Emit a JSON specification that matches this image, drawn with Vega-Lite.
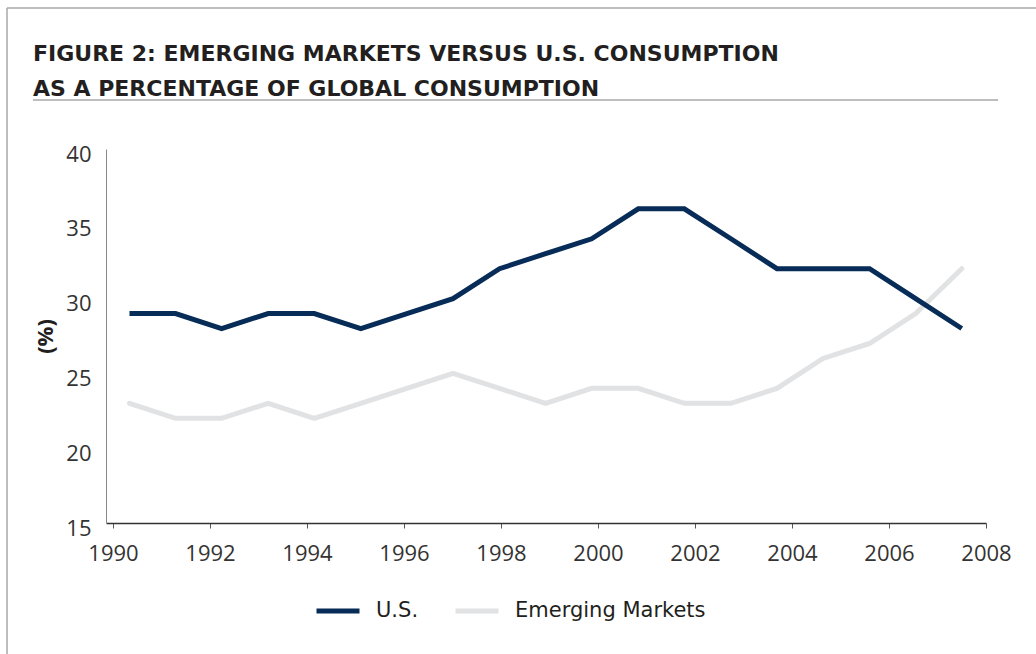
{
  "$schema": "https://vega.github.io/schema/vega-lite/v6.json",
  "width": 880,
  "height": 374,
  "autosize": {"type": "none"},
  "padding": {"left": 106, "top": 149, "right": 50, "bottom": 131},
  "background": "white",
  "view": {"stroke": null},
  "title": {
    "text": ["FIGURE 2: EMERGING MARKETS VERSUS U.S. CONSUMPTION", "AS A PERCENTAGE OF GLOBAL CONSUMPTION"],
    "anchor": "start",
    "frame": "group",
    "dx": -73,
    "offset": -94,
    "baseline": "top",
    "lineHeight": 35,
    "font": "DejaVu Sans",
    "fontSize": 22,
    "fontWeight": "bold",
    "color": "#231f20"
  },
  "datasets": {
    "series": [
      {"year": 1990.34, "series": "U.S.", "value": 29},
      {"year": 1991.29, "series": "U.S.", "value": 29},
      {"year": 1992.24, "series": "U.S.", "value": 28},
      {"year": 1993.20, "series": "U.S.", "value": 29},
      {"year": 1994.15, "series": "U.S.", "value": 29},
      {"year": 1995.11, "series": "U.S.", "value": 28},
      {"year": 1996.06, "series": "U.S.", "value": 29},
      {"year": 1997.01, "series": "U.S.", "value": 30},
      {"year": 1997.97, "series": "U.S.", "value": 32},
      {"year": 1998.92, "series": "U.S.", "value": 33},
      {"year": 1999.87, "series": "U.S.", "value": 34},
      {"year": 2000.83, "series": "U.S.", "value": 36},
      {"year": 2001.78, "series": "U.S.", "value": 36},
      {"year": 2002.74, "series": "U.S.", "value": 34},
      {"year": 2003.69, "series": "U.S.", "value": 32},
      {"year": 2004.64, "series": "U.S.", "value": 32},
      {"year": 2005.60, "series": "U.S.", "value": 32},
      {"year": 2006.55, "series": "U.S.", "value": 30},
      {"year": 2007.50, "series": "U.S.", "value": 28},
      {"year": 1990.34, "series": "Emerging Markets", "value": 23},
      {"year": 1991.29, "series": "Emerging Markets", "value": 22},
      {"year": 1992.24, "series": "Emerging Markets", "value": 22},
      {"year": 1993.20, "series": "Emerging Markets", "value": 23},
      {"year": 1994.15, "series": "Emerging Markets", "value": 22},
      {"year": 1995.11, "series": "Emerging Markets", "value": 23},
      {"year": 1996.06, "series": "Emerging Markets", "value": 24},
      {"year": 1997.01, "series": "Emerging Markets", "value": 25},
      {"year": 1997.97, "series": "Emerging Markets", "value": 24},
      {"year": 1998.92, "series": "Emerging Markets", "value": 23},
      {"year": 1999.87, "series": "Emerging Markets", "value": 24},
      {"year": 2000.83, "series": "Emerging Markets", "value": 24},
      {"year": 2001.78, "series": "Emerging Markets", "value": 23},
      {"year": 2002.74, "series": "Emerging Markets", "value": 23},
      {"year": 2003.69, "series": "Emerging Markets", "value": 24},
      {"year": 2004.64, "series": "Emerging Markets", "value": 26},
      {"year": 2005.60, "series": "Emerging Markets", "value": 27},
      {"year": 2006.55, "series": "Emerging Markets", "value": 29},
      {"year": 2007.50, "series": "Emerging Markets", "value": 32}
    ],
    "frame": [
      {"part": "underline", "x1": 1988.35, "x2": 2008.25, "y1": 43.28, "y2": 43.28},
      {"part": "top", "x1": 1987.815, "x2": 2010, "y1": 49.43, "y2": 49.43},
      {"part": "left", "x1": 1987.815, "x2": 1987.815, "y1": 49.43, "y2": 5}
    ]
  },
  "encoding": {
    "x": {
      "field": "year",
      "type": "quantitative",
      "scale": {"domain": [1989.856, 2008], "nice": false, "zero": false},
      "axis": {
        "title": null,
        "values": [1990, 1992, 1994, 1996, 1998, 2000, 2002, 2004, 2006, 2008],
        "format": "d",
        "grid": false,
        "domainColor": "#333333",
        "domainWidth": 1.5,
        "tickColor": "#555555",
        "tickSize": 5,
        "labelFont": "Open Sans",
        "labelFontSize": 22,
        "labelColor": "#333333",
        "labelPadding": 15,
        "labelFlush": false
      }
    },
    "y": {
      "field": "value",
      "type": "quantitative",
      "scale": {"domain": [15, 40], "nice": false, "zero": false},
      "axis": {
        "title": "(%)",
        "values": [15, 20, 25, 30, 35, 40],
        "grid": false,
        "ticks": false,
        "domainColor": "#888888",
        "domainWidth": 1,
        "labelFont": "Open Sans",
        "labelFontSize": 22,
        "labelColor": "#333333",
        "labelPadding": 15,
        "labelOffset": 5,
        "titleFont": "Open Sans",
        "titleFontSize": 22,
        "titleFontWeight": "bold",
        "titleColor": "#231f20",
        "titlePadding": 8
      }
    }
  },
  "layer": [
    {
      "data": {"name": "frame"},
      "mark": {"type": "rule", "clip": false, "color": "#a8a8a8", "strokeWidth": 1.5},
      "encoding": {
        "x": {"field": "x1", "type": "quantitative"},
        "x2": {"field": "x2"},
        "y": {"field": "y1", "type": "quantitative"},
        "y2": {"field": "y2"}
      }
    },
    {
      "data": {"name": "series"},
      "transform": [{"filter": "datum.series === 'Emerging Markets'"}],
      "mark": {"type": "line", "strokeWidth": 5, "strokeCap": "round", "strokeJoin": "miter"},
      "encoding": {
        "color": {
          "field": "series",
          "type": "nominal",
          "scale": {"domain": ["U.S.", "Emerging Markets"], "range": ["#062c57", "#e1e2e3"]}
        }
      }
    },
    {
      "data": {"name": "series"},
      "transform": [{"filter": "datum.series === 'U.S.'"}],
      "mark": {"type": "line", "strokeWidth": 5, "strokeCap": "butt", "strokeJoin": "miter"},
      "encoding": {
        "color": {
          "field": "series",
          "type": "nominal",
          "scale": {"domain": ["U.S.", "Emerging Markets"], "range": ["#062c57", "#e1e2e3"]},
          "legend": {
            "title": null,
            "orient": "none",
            "legendX": 208,
            "legendY": 438,
            "direction": "horizontal",
            "symbolType": "stroke",
            "symbolSize": 1849,
            "symbolStrokeWidth": 5,
            "labelFont": "DejaVu Sans",
            "labelFontSize": 21,
            "labelColor": "#231f20",
            "labelLimit": 400,
            "labelOffset": 14,
            "columnPadding": 26
          }
        }
      }
    }
  ]
}
